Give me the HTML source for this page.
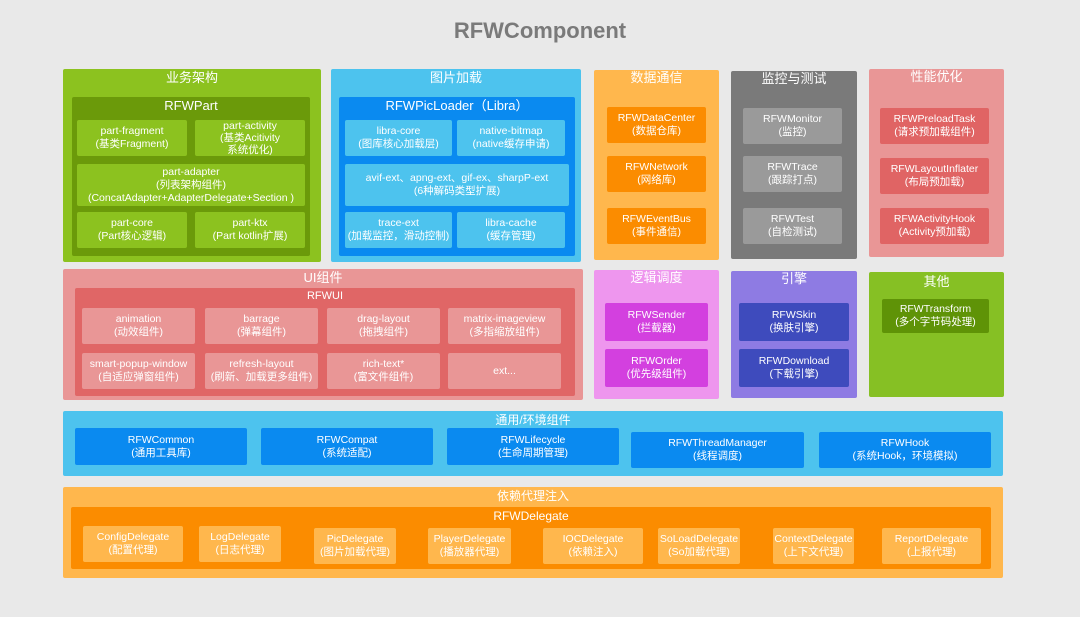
<!DOCTYPE html>
<html><head><meta charset="utf-8"><style>
*{margin:0;padding:0;box-sizing:border-box}
body{width:1080px;height:617px;background:#e9e9e9;position:relative;overflow:hidden;font-family:"Liberation Sans","Noto Sans CJK SC",sans-serif;color:#fff}
.b{position:absolute;border-radius:2px}
.t{position:absolute;left:0;right:0;text-align:center;font-size:13px;line-height:16px}
.c{position:absolute;border-radius:2px;display:flex;align-items:center;justify-content:center;text-align:center;font-size:10.5px;line-height:13px;white-space:nowrap}
</style></head><body>
<div style="position:absolute;left:0;width:1080px;top:18px;text-align:center;font-size:22px;font-weight:bold;color:#7a7a7a">RFWComponent</div>

<div class="b" style="left:63px;top:69px;width:258px;height:193px;background:#8cc21f"><div class="t" style="top:1px">业务架构</div></div>
<div class="b" style="left:72px;top:97px;width:238px;height:159px;background:#6b9a0a"><div class="t" style="top:1px">RFWPart</div></div>
<div class="c" style="left:77px;top:120px;width:110px;height:36px;background:#8cc21f">part-fragment<br>(基类Fragment)</div>
<div class="c" style="left:195px;top:120px;width:110px;height:36px;background:#8cc21f;line-height:12px">part-activity<br>(基类Acitivity<br>系统优化)</div>
<div class="c" style="left:77px;top:164px;width:228px;height:42px;background:#8cc21f">part-adapter<br>(列表架构组件)<br>(ConcatAdapter+AdapterDelegate+Section )</div>
<div class="c" style="left:77px;top:212px;width:110px;height:36px;background:#8cc21f">part-core<br>(Part核心逻辑)</div>
<div class="c" style="left:195px;top:212px;width:110px;height:36px;background:#8cc21f">part-ktx<br>(Part kotlin扩展)</div>

<div class="b" style="left:331px;top:69px;width:250px;height:193px;background:#4dc3ee"><div class="t" style="top:1px">图片加载</div></div>
<div class="b" style="left:339px;top:97px;width:236px;height:159px;background:#0a8af0"><div class="t" style="top:1px">RFWPicLoader（Libra）</div></div>
<div class="c" style="left:345px;top:120px;width:107px;height:36px;background:#4dc3ee">libra-core<br>(图库核心加载层)</div>
<div class="c" style="left:457px;top:120px;width:108px;height:36px;background:#4dc3ee">native-bitmap<br>(native缓存申请)</div>
<div class="c" style="left:345px;top:164px;width:224px;height:42px;background:#4dc3ee">avif-ext、apng-ext、gif-ex、sharpP-ext<br>(6种解码类型扩展)</div>
<div class="c" style="left:345px;top:212px;width:107px;height:36px;background:#4dc3ee">trace-ext<br>(加载监控，滑动控制)</div>
<div class="c" style="left:457px;top:212px;width:108px;height:36px;background:#4dc3ee">libra-cache<br>(缓存管理)</div>

<div class="b" style="left:594px;top:70px;width:125px;height:190px;background:#ffb74d"><div class="t" style="top:0">数据通信</div></div>
<div class="c" style="left:607px;top:107px;width:99px;height:36px;background:#fb8c00">RFWDataCenter<br>(数据仓库)</div>
<div class="c" style="left:607px;top:156px;width:99px;height:36px;background:#fb8c00">RFWNetwork<br>(网络库)</div>
<div class="c" style="left:607px;top:208px;width:99px;height:36px;background:#fb8c00">RFWEventBus<br>(事件通信)</div>

<div class="b" style="left:731px;top:71px;width:126px;height:188px;background:#7a7a7a"><div class="t" style="top:0">监控与测试</div></div>
<div class="c" style="left:743px;top:108px;width:99px;height:36px;background:#9a9a9a">RFWMonitor<br>(监控)</div>
<div class="c" style="left:743px;top:156px;width:99px;height:36px;background:#9a9a9a">RFWTrace<br>(跟踪打点)</div>
<div class="c" style="left:743px;top:208px;width:99px;height:36px;background:#9a9a9a">RFWTest<br>(自检测试)</div>

<div class="b" style="left:869px;top:69px;width:135px;height:188px;background:#e99696"><div class="t" style="top:0">性能优化</div></div>
<div class="c" style="left:880px;top:108px;width:109px;height:36px;background:#e06464">RFWPreloadTask<br>(请求预加载组件)</div>
<div class="c" style="left:880px;top:158px;width:109px;height:36px;background:#e06464">RFWLayoutInflater<br>(布局预加载)</div>
<div class="c" style="left:880px;top:208px;width:109px;height:36px;background:#e06464">RFWActivityHook<br>(Activity预加载)</div>

<div class="b" style="left:63px;top:269px;width:520px;height:131px;background:#e99696"><div class="t" style="top:1px">UI组件</div></div>
<div class="b" style="left:75px;top:288px;width:500px;height:108px;background:#e06666"><div class="t" style="top:0;font-size:11px">RFWUI</div></div>
<div class="c" style="left:82px;top:308px;width:113px;height:36px;background:#e99696">animation<br>(动效组件)</div>
<div class="c" style="left:205px;top:308px;width:113px;height:36px;background:#e99696">barrage<br>(弹幕组件)</div>
<div class="c" style="left:327px;top:308px;width:113px;height:36px;background:#e99696">drag-layout<br>(拖拽组件)</div>
<div class="c" style="left:448px;top:308px;width:113px;height:36px;background:#e99696">matrix-imageview<br>(多指缩放组件)</div>
<div class="c" style="left:82px;top:353px;width:113px;height:36px;background:#e99696">smart-popup-window<br>(自适应弹窗组件)</div>
<div class="c" style="left:205px;top:353px;width:113px;height:36px;background:#e99696">refresh-layout<br>(刷新、加载更多组件)</div>
<div class="c" style="left:327px;top:353px;width:113px;height:36px;background:#e99696">rich-text*<br>(富文件组件)</div>
<div class="c" style="left:448px;top:353px;width:113px;height:36px;background:#e99696">ext...</div>

<div class="b" style="left:594px;top:270px;width:125px;height:129px;background:#ee96ee"><div class="t" style="top:0">逻辑调度</div></div>
<div class="c" style="left:605px;top:303px;width:103px;height:38px;background:#d340df">RFWSender<br>(拦截器)</div>
<div class="c" style="left:605px;top:349px;width:103px;height:38px;background:#d340df">RFWOrder<br>(优先级组件)</div>

<div class="b" style="left:731px;top:271px;width:126px;height:127px;background:#8e7be3"><div class="t" style="top:0">引擎</div></div>
<div class="c" style="left:739px;top:303px;width:110px;height:38px;background:#3e4bbd">RFWSkin<br>(换肤引擎)</div>
<div class="c" style="left:739px;top:349px;width:110px;height:38px;background:#3e4bbd">RFWDownload<br>(下载引擎)</div>

<div class="b" style="left:869px;top:272px;width:135px;height:125px;background:#86c024"><div class="t" style="top:2px">其他</div></div>
<div class="c" style="left:882px;top:299px;width:107px;height:34px;background:#5f9307">RFWTransform<br>(多个字节码处理)</div>

<div class="b" style="left:63px;top:411px;width:940px;height:65px;background:#4dc3ee"><div class="t" style="top:1px;font-size:12px">通用/环境组件</div></div>
<div class="c" style="left:75px;top:428px;width:172px;height:37px;background:#0a8af0">RFWCommon<br>(通用工具库)</div>
<div class="c" style="left:261px;top:428px;width:172px;height:37px;background:#0a8af0">RFWCompat<br>(系统适配)</div>
<div class="c" style="left:447px;top:428px;width:172px;height:37px;background:#0a8af0">RFWLifecycle<br>(生命周期管理)</div>
<div class="c" style="left:631px;top:432px;width:173px;height:36px;background:#0a8af0">RFWThreadManager<br>(线程调度)</div>
<div class="c" style="left:819px;top:432px;width:172px;height:36px;background:#0a8af0">RFWHook<br>(系统Hook，环境模拟)</div>

<div class="b" style="left:63px;top:487px;width:940px;height:91px;background:#ffb74d"><div class="t" style="top:1px;font-size:12px">依赖代理注入</div></div>
<div class="b" style="left:71px;top:507px;width:920px;height:62px;background:#fb8c00"><div class="t" style="top:1px;font-size:12px">RFWDelegate</div></div>
<div class="c" style="left:83px;top:526px;width:100px;height:36px;background:#ffb74d">ConfigDelegate<br>(配置代理)</div>
<div class="c" style="left:199px;top:526px;width:82px;height:36px;background:#ffb74d">LogDelegate<br>(日志代理)</div>
<div class="c" style="left:314px;top:528px;width:82px;height:36px;background:#ffb74d">PicDelegate<br>(图片加载代理)</div>
<div class="c" style="left:428px;top:528px;width:83px;height:36px;background:#ffb74d">PlayerDelegate<br>(播放器代理)</div>
<div class="c" style="left:543px;top:528px;width:100px;height:36px;background:#ffb74d">IOCDelegate<br>(依赖注入)</div>
<div class="c" style="left:658px;top:528px;width:82px;height:36px;background:#ffb74d">SoLoadDelegate<br>(So加载代理)</div>
<div class="c" style="left:773px;top:528px;width:81px;height:36px;background:#ffb74d">ContextDelegate<br>(上下文代理)</div>
<div class="c" style="left:882px;top:528px;width:99px;height:36px;background:#ffb74d">ReportDelegate<br>(上报代理)</div>
</body></html>
